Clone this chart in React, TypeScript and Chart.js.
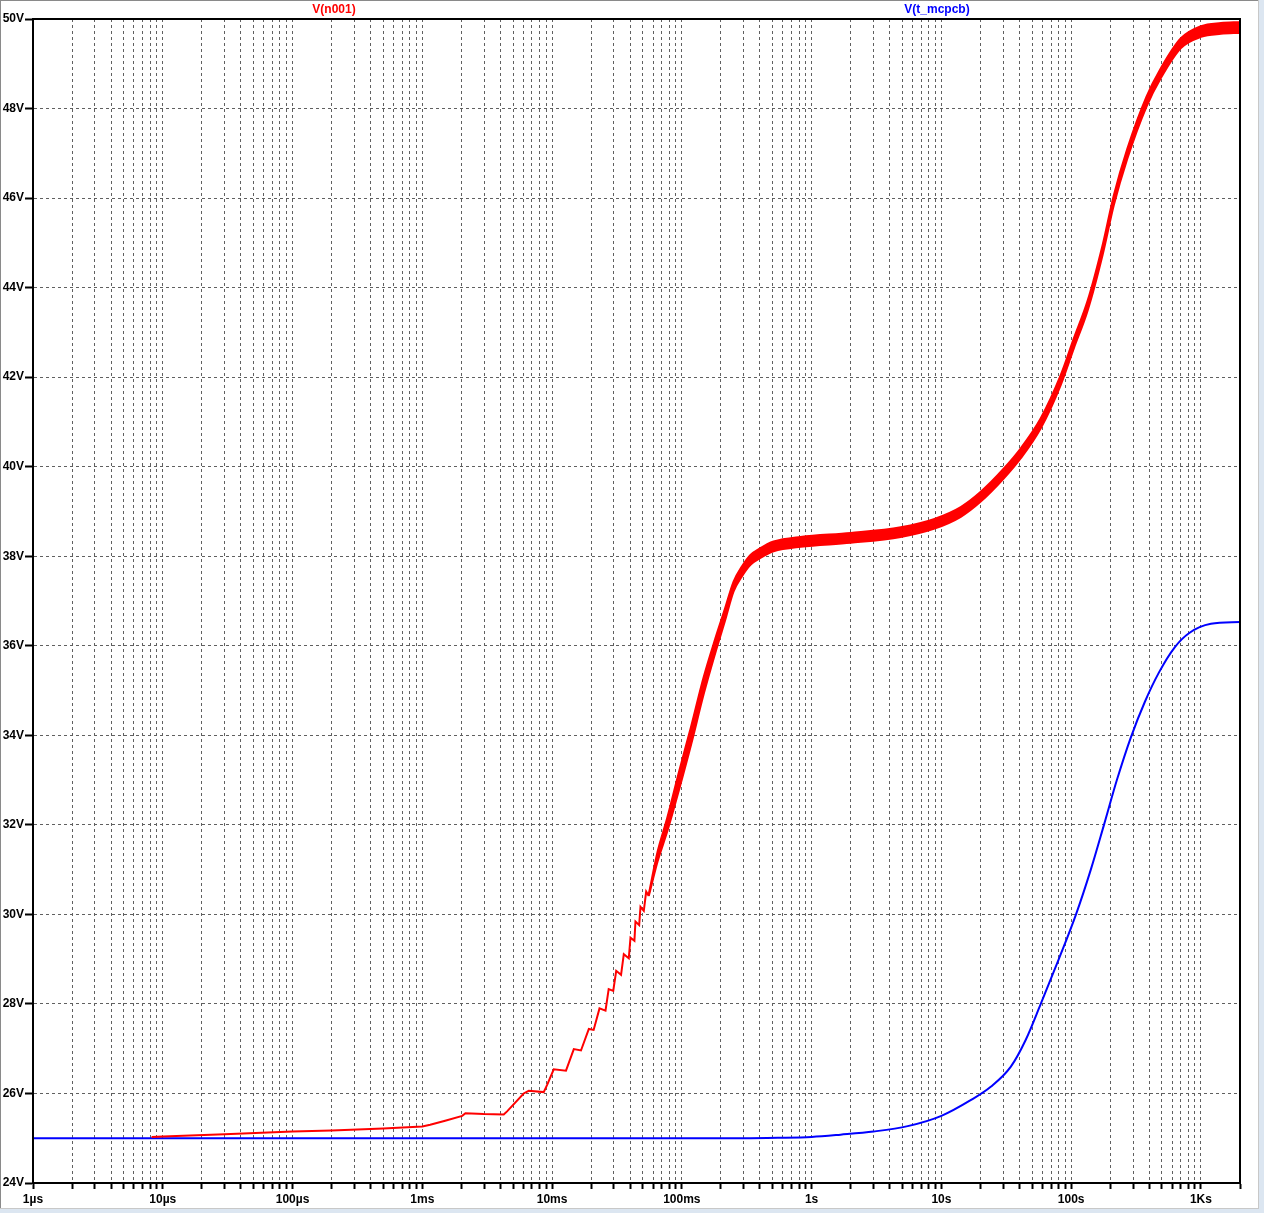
import React, { useEffect, useRef } from "react";
import { Chart, registerables } from "chart.js";

Chart.register(...registerables);

// ---- Data ----
// V(n001): early staircase part (single trace)
const redStepTime = [
  8.2e-6, 1e-5, 3e-5, 1e-4, 2e-4, 5e-4, 1e-3, 1.15e-3, 1.5e-3, 2.03e-3, 2.15e-3, 2.97e-3, 4.24e-3, 4.5e-3,
  6.04e-3, 6.61e-3, 8.62e-3, 9.16e-3, 10.3e-3, 12.8e-3, 14.7e-3, 16.7e-3, 19.2e-3, 20.9e-3, 23.2e-3,
  25.8e-3, 27.3e-3, 29.6e-3, 31.2e-3, 34.0e-3, 35.7e-3, 39.0e-3, 40.2e-3, 43.1e-3, 43.9e-3, 46.9e-3,
  48.0e-3, 50.9e-3, 53.1e-3, 55.6e-3,
];
const redStepVal = [
  25.03, 25.04, 25.09, 25.15, 25.17, 25.22, 25.26, 25.30, 25.39, 25.50, 25.56, 25.54, 25.53, 25.60,
  26.00, 26.06, 26.03, 26.19, 26.54, 26.51, 26.99, 26.96, 27.44, 27.42, 27.90,
  27.85, 28.33, 28.29, 28.74, 28.65, 29.11, 29.02, 29.48, 29.41, 29.84, 29.76,
  30.17, 30.08, 30.51, 30.41,
];
// V(n001): later part, drawn as a ripple band (upper / lower envelope)
const redBandTime = [
  55.6e-3, 65e-3, 77.1e-3, 95e-3, 118e-3, 147e-3, 181e-3, 215e-3, 250e-3, 290e-3, 338e-3, 403e-3,
  455e-3, 509e-3, 822e-3, 2.0, 4.86, 8.73, 14.1, 20.1, 30.3, 40.9, 58.3, 83.2, 105, 134, 175, 213,
  270, 380, 491, 701, 1000, 1426, 2000,
];
const redBandHigh = [
  30.45, 31.40, 32.15, 33.18, 34.20, 35.29, 36.16, 36.83, 37.43, 37.77, 38.03, 38.18,
  38.27, 38.33, 38.43, 38.52, 38.65, 38.83, 39.10, 39.44, 39.96, 40.41, 41.08, 42.05, 42.87, 43.71, 44.96, 46.06,
  47.09, 48.26, 48.90, 49.57, 49.84, 49.91, 49.93,
];
const redBandLow = [
  30.41, 31.18, 31.85, 32.78, 33.80, 34.91, 35.84, 36.56, 37.21, 37.55, 37.81, 37.96,
  38.05, 38.11, 38.21, 38.30, 38.43, 38.61, 38.88, 39.22, 39.74, 40.19, 40.86, 41.83, 42.65, 43.49, 44.74, 45.84,
  46.87, 48.04, 48.68, 49.35, 49.60, 49.67, 49.69,
];

// V(t_mcpcb)
const blueTime = [1e-6, 0.3, 0.55, 1, 1.67, 3, 5.5, 10, 16.8, 24, 34.3, 44.7, 58.3, 80.3, 109, 141.7, 179, 225, 288, 370, 474, 630, 808, 1194, 2000];
const blueVal = [25.0, 25.0, 25.01, 25.03, 25.08, 25.15, 25.27, 25.5, 25.85, 26.15, 26.6, 27.2, 28.0, 29.0, 30.0, 31.0, 32.0, 33.0, 33.95, 34.75, 35.4, 35.97, 36.28, 36.49, 36.53];

const xDecades = [1e-6, 1e-5, 1e-4, 1e-3, 1e-2, 1e-1, 1, 10, 100, 1000];
const xDecadeLabels = ["1µs", "10µs", "100µs", "1ms", "10ms", "100ms", "1s", "10s", "100s", "1Ks"];
const xMultipliers = [1, 2, 3, 4, 5, 6, 7, 8, 9];
const X_MIN = 1e-6;
const X_MAX = 2000;
const Y_MIN = 24;
const Y_MAX = 50;
const Y_STEP = 2;

const seriesNames = ["V(n001)", "V(t_mcpcb)"];
const seriesColors = ["#ff0000", "#0000ff"];

const FONT = "'Liberation Sans', Arial, sans-serif";

function buildXTicks(): number[] {
  const out: number[] = [];
  for (const d of xDecades) {
    for (const m of xMultipliers) {
      const v = Number((m * d).toPrecision(12));
      if (v >= X_MIN && v <= X_MAX) out.push(v);
    }
  }
  if (!out.includes(X_MAX)) out.push(X_MAX);
  return out;
}

function xLabel(v: number): string {
  for (let i = 0; i < xDecades.length; i++) {
    if (Math.abs(v - xDecades[i]) / xDecades[i] < 1e-9) return xDecadeLabels[i];
  }
  return "";
}

const framePlugin = {
  id: "framePlugin",
  beforeDraw(chart: any) {
    const { ctx, width, height } = chart;
    ctx.save();
    ctx.fillStyle = "#ffffff";
    ctx.fillRect(0, 0, width, height);
    ctx.restore();
  },
  afterDraw(chart: any) {
    const { ctx, chartArea, width, height } = chart;
    ctx.save();
    ctx.strokeStyle = "#000";
    ctx.lineWidth = 2;
    ctx.strokeRect(chartArea.left, chartArea.top, chartArea.right - chartArea.left, chartArea.bottom - chartArea.top);
    ctx.fillStyle = "#dce6f1";
    ctx.fillRect(1259, 0, width - 1259, height);
    ctx.fillRect(0, 1209, width, height - 1209);
    ctx.fillStyle = "#8a8a8a";
    ctx.fillRect(0, 0, 1259, 1);
    ctx.fillRect(0, 0, 1, 1209);
    ctx.fillStyle = "#c8c8c8";
    ctx.fillRect(1258, 0, 1, 1209);
    ctx.fillRect(0, 1208, 1259, 1);
    ctx.font = `bold 12px ${FONT}`;
    ctx.textAlign = "center";
    ctx.textBaseline = "middle";
    ctx.fillStyle = seriesColors[0];
    ctx.fillText(seriesNames[0], 334, 9.5);
    ctx.fillStyle = seriesColors[1];
    ctx.fillText(seriesNames[1], 937, 9.5);
    ctx.restore();
  },
};

export default function App() {
  const ref = useRef<HTMLCanvasElement | null>(null);

  useEffect(() => {
    if (!ref.current) return;
    const xTicks = buildXTicks();
    const chart = new Chart(ref.current, {
      type: "line",
      data: {
        datasets: [
          {
            label: seriesNames[0] + " max",
            data: redBandTime.map((t, i) => ({ x: t, y: redBandHigh[i] })),
            borderColor: seriesColors[0],
            backgroundColor: seriesColors[0],
            borderWidth: 2,
            pointRadius: 0,
            cubicInterpolationMode: "monotone",
            fill: false,
          },
          {
            label: seriesNames[0] + " min",
            data: redBandTime.map((t, i) => ({ x: t, y: redBandLow[i] })),
            borderColor: seriesColors[0],
            backgroundColor: seriesColors[0],
            borderWidth: 2,
            pointRadius: 0,
            cubicInterpolationMode: "monotone",
            fill: "-1",
          },
          {
            label: seriesNames[0],
            data: redStepTime.map((t, i) => ({ x: t, y: redStepVal[i] })),
            borderColor: seriesColors[0],
            borderWidth: 2,
            pointRadius: 0,
            tension: 0,
            fill: false,
          },
          {
            label: seriesNames[1],
            data: blueTime.map((t, i) => ({ x: t, y: blueVal[i] })),
            borderColor: seriesColors[1],
            backgroundColor: seriesColors[1],
            borderWidth: 2,
            pointRadius: 0,
            cubicInterpolationMode: "monotone",
            fill: false,
          },
        ],
      },
      options: {
        animation: false,
        responsive: false,
        devicePixelRatio: 1,
        layout: { padding: { top: 19, right: 24, left: 0, bottom: 0 } },
        plugins: {
          legend: { display: false },
          tooltip: { enabled: false },
        },
        scales: {
          x: {
            type: "logarithmic",
            min: X_MIN,
            max: X_MAX,
            afterBuildTicks: (scale: any) => {
              scale.ticks = xTicks.map((v) => ({ value: v }));
            },
            afterFit: (scale: any) => {
              scale.height = 30;
            },
            ticks: {
              autoSkip: false,
              maxRotation: 0,
              minRotation: 0,
              padding: 3,
              color: "#000",
              font: { family: FONT, size: 12, weight: "bold" },
              callback: (v: any) => xLabel(Number(v)),
            },
            grid: {
              color: "#606060",
              lineWidth: 1,
              drawTicks: true,
              tickLength: 6,
              tickColor: "#000",
              tickWidth: 2,
              tickBorderDash: [],
            },
            border: { display: true, color: "#000", width: 2, dash: [3, 3] },
          },
          y: {
            type: "linear",
            min: Y_MIN,
            max: Y_MAX,
            afterFit: (scale: any) => {
              scale.width = 33;
            },
            ticks: {
              stepSize: Y_STEP,
              padding: 1,
              color: "#000",
              font: { family: FONT, size: 12, weight: "bold" },
              callback: (v: any) => `${v}V`,
            },
            grid: {
              color: "#606060",
              lineWidth: 1,
              drawTicks: true,
              tickLength: 8,
              tickColor: "#000",
              tickWidth: 2,
              tickBorderDash: [],
            },
            border: { display: true, color: "#000", width: 2, dash: [3, 3] },
          },
        },
      },
      plugins: [framePlugin],
    } as any);
    return () => chart.destroy();
  }, []);

  return (
    <div style={{ position: "absolute", left: 0, top: 0, width: 1264, height: 1213 }}>
      <canvas ref={ref} width={1264} height={1213} style={{ display: "block", width: 1264, height: 1213 }} />
    </div>
  );
}
